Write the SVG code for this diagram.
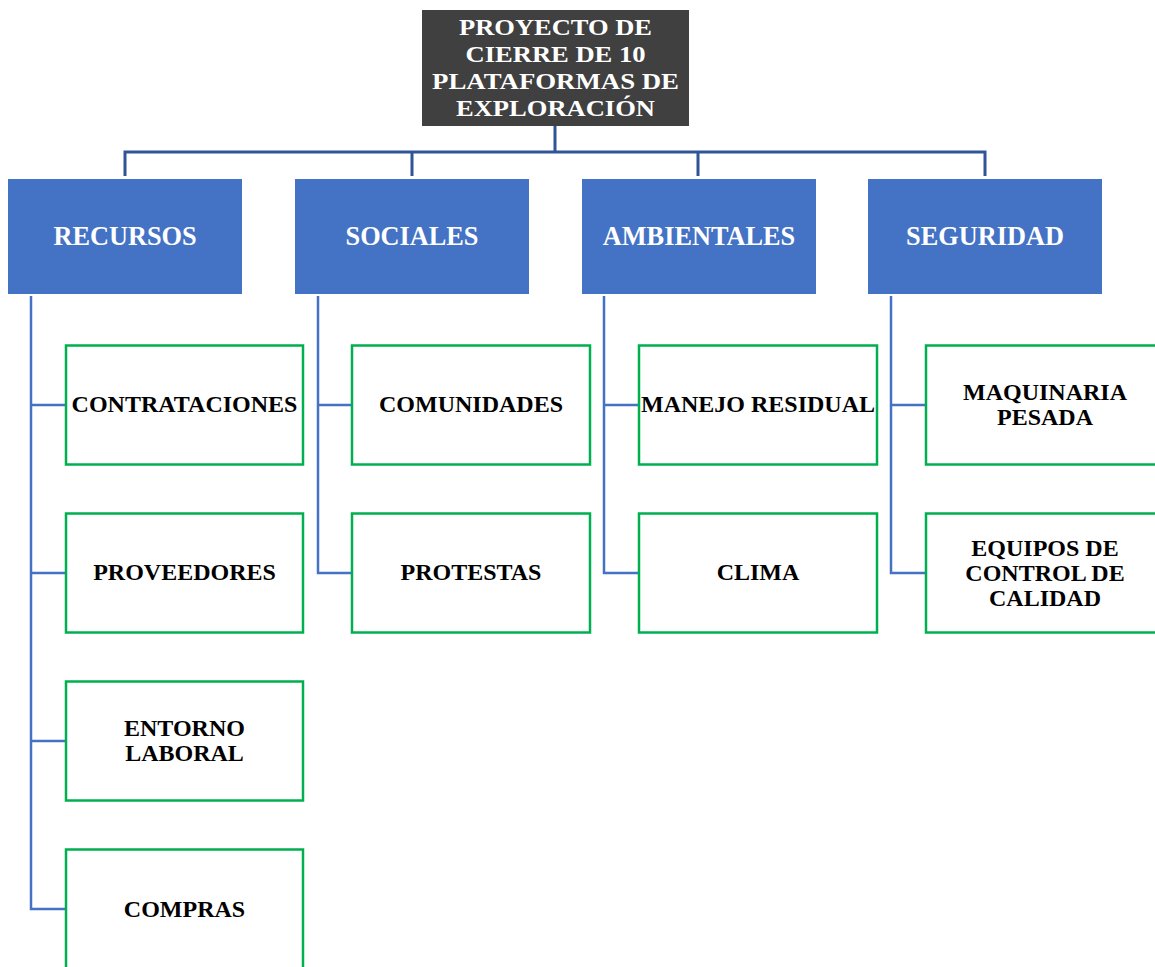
<svg xmlns="http://www.w3.org/2000/svg" width="1155" height="967" viewBox="0 0 1155 967">
  <style>
    .root-box { fill: #404040; }
    .cat-box { fill: #4472c4; }
    .leaf-box { fill: #ffffff; stroke: #00b050; stroke-width: 2.5; }
    .t { font-family: "Liberation Serif", "Times New Roman", serif; font-weight: bold; text-anchor: middle; }
    .t-root { fill: #ffffff; font-size: 24px; }
    .t-cat { fill: #ffffff; font-size: 26.3px; }
    .t-leaf { fill: #000000; font-size: 24px; }
    .trunk { fill: none; stroke: #2f5597; stroke-width: 3; }
    .branch { fill: none; stroke: #4472c4; stroke-width: 2.5; }
  </style>

  <g id="connectors">
    <!-- root to categories -->
    <path class="trunk" d="M555 126 V152 M125 152 H986 M125 150.5 V176 M412 150.5 V176 M698 150.5 V176 M985 150.5 V176"/>
    <!-- RECURSOS spine -->
    <path class="branch" d="M31 296 V909 H66 M31 405 H66 M31 573 H66 M31 741 H66"/>
    <!-- SOCIALES spine -->
    <path class="branch" d="M318 296 V573 H352 M318 405 H352"/>
    <!-- AMBIENTALES spine -->
    <path class="branch" d="M604 296 V573 H639 M604 405 H639"/>
    <!-- SEGURIDAD spine -->
    <path class="branch" d="M891 296 V573 H926 M891 405 H926"/>
  </g>

  <g id="root">
    <rect class="root-box" x="422" y="10" width="267" height="116"/>
    <text class="t t-root" x="555.5" y="35" textLength="193" lengthAdjust="spacingAndGlyphs">PROYECTO DE</text>
    <text class="t t-root" x="555.5" y="62" textLength="180" lengthAdjust="spacingAndGlyphs">CIERRE DE 10</text>
    <text class="t t-root" x="555.5" y="89" textLength="247" lengthAdjust="spacingAndGlyphs">PLATAFORMAS DE</text>
    <text class="t t-root" x="555.5" y="116" textLength="199" lengthAdjust="spacingAndGlyphs">EXPLORACIÓN</text>
  </g>

  <g id="recursos">
    <rect class="cat-box" x="8" y="179" width="234" height="115"/>
    <text class="t t-cat" x="125" y="245">RECURSOS</text>
  </g>
  <g id="sociales">
    <rect class="cat-box" x="295" y="179" width="234" height="115"/>
    <text class="t t-cat" x="412" y="245">SOCIALES</text>
  </g>
  <g id="ambientales">
    <rect class="cat-box" x="582" y="179" width="234" height="115"/>
    <text class="t t-cat" x="699" y="245">AMBIENTALES</text>
  </g>
  <g id="seguridad">
    <rect class="cat-box" x="868" y="179" width="234" height="115"/>
    <text class="t t-cat" x="985" y="245">SEGURIDAD</text>
  </g>

  <g id="contrataciones">
    <rect class="leaf-box" x="66" y="345.5" width="237" height="119"/>
    <text class="t t-leaf" x="184.5" y="412">CONTRATACIONES</text>
  </g>
  <g id="proveedores">
    <rect class="leaf-box" x="66" y="513.5" width="237" height="119"/>
    <text class="t t-leaf" x="184.5" y="580">PROVEEDORES</text>
  </g>
  <g id="entorno-laboral">
    <rect class="leaf-box" x="66" y="681.5" width="237" height="119"/>
    <text class="t t-leaf" x="184.5" y="736">ENTORNO</text>
    <text class="t t-leaf" x="184.5" y="761">LABORAL</text>
  </g>
  <g id="compras">
    <rect class="leaf-box" x="66" y="849.5" width="237" height="119"/>
    <text class="t t-leaf" x="184.5" y="917">COMPRAS</text>
  </g>

  <g id="comunidades">
    <rect class="leaf-box" x="352" y="345.5" width="238" height="119"/>
    <text class="t t-leaf" x="471" y="412">COMUNIDADES</text>
  </g>
  <g id="protestas">
    <rect class="leaf-box" x="352" y="513.5" width="238" height="119"/>
    <text class="t t-leaf" x="471" y="580">PROTESTAS</text>
  </g>

  <g id="manejo-residual">
    <rect class="leaf-box" x="639" y="345.5" width="238" height="119"/>
    <text class="t t-leaf" x="758" y="412">MANEJO RESIDUAL</text>
  </g>
  <g id="clima">
    <rect class="leaf-box" x="639" y="513.5" width="238" height="119"/>
    <text class="t t-leaf" x="758" y="580">CLIMA</text>
  </g>

  <g id="maquinaria-pesada">
    <rect class="leaf-box" x="926" y="345.5" width="238" height="119"/>
    <text class="t t-leaf" x="1045" y="400">MAQUINARIA</text>
    <text class="t t-leaf" x="1045" y="425">PESADA</text>
  </g>
  <g id="equipos-control">
    <rect class="leaf-box" x="926" y="513.5" width="238" height="119"/>
    <text class="t t-leaf" x="1045" y="556">EQUIPOS DE</text>
    <text class="t t-leaf" x="1045" y="581">CONTROL DE</text>
    <text class="t t-leaf" x="1045" y="606">CALIDAD</text>
  </g>
</svg>
